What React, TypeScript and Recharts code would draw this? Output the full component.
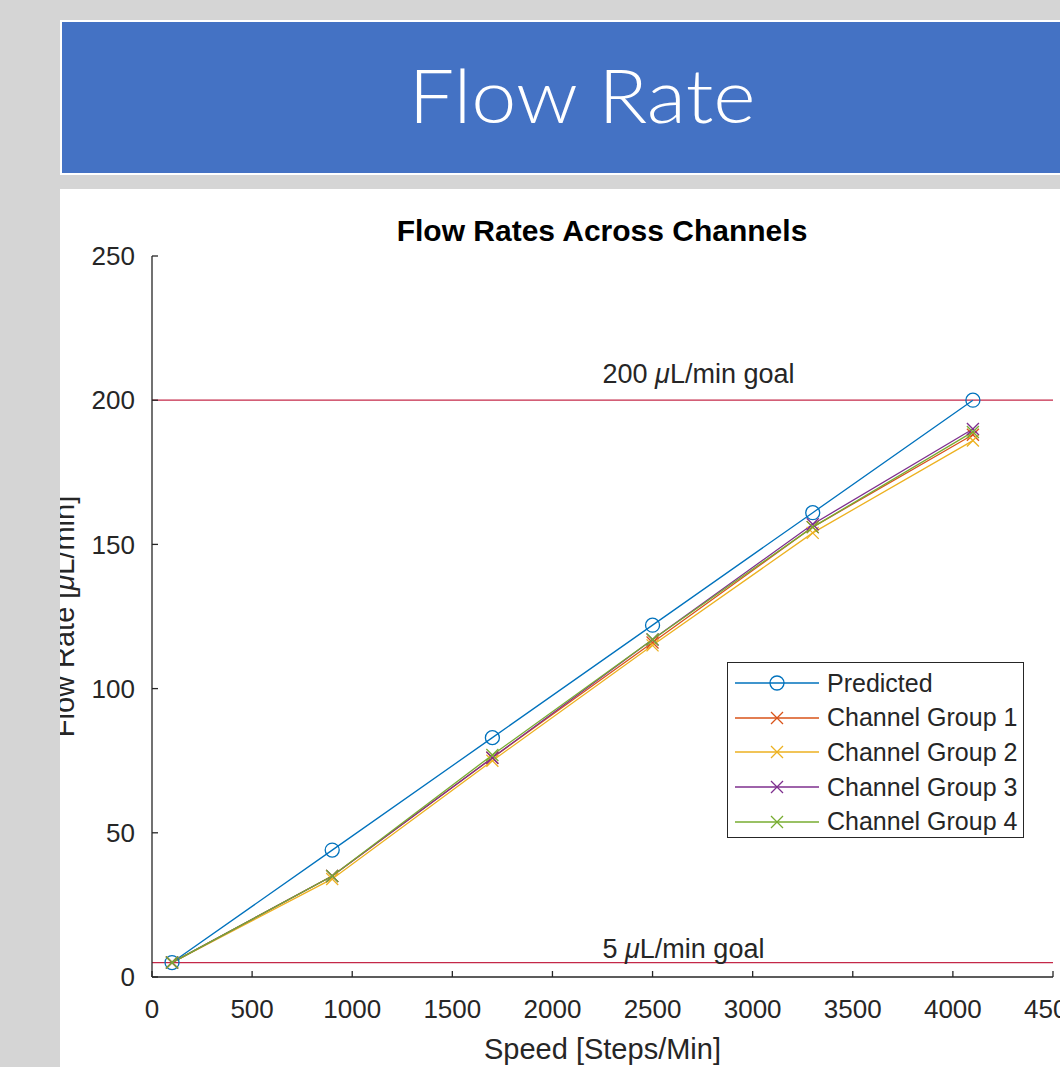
import React from "react";
import { LineChart, Line, XAxis, YAxis, ReferenceLine } from "recharts";

const speeds = [100, 900, 1700, 2500, 3300, 4100];
const predicted = [5, 44, 83, 122, 161, 200];
const group1 = [5, 35, 76, 116, 156, 188];
const group2 = [5, 34, 75, 115, 154, 186];
const group3 = [5, 35, 76, 117, 157, 190];
const group4 = [5, 35, 77, 117, 156, 189];

const xTicks = [0, 500, 1000, 1500, 2000, 2500, 3000, 3500, 4000, 4500];
const yTicks = [0, 50, 100, 150, 200, 250];
const goals = [
  { value: 200, text: "200", dy: -17 },
  { value: 5, text: "5", dy: -5 },
];

const series = [
  { key: "predicted", name: "Predicted", color: "#0072BD", marker: "o" },
  { key: "group1", name: "Channel Group 1", color: "#D95319", marker: "x" },
  { key: "group2", name: "Channel Group 2", color: "#EDB120", marker: "x" },
  { key: "group3", name: "Channel Group 3", color: "#7E2F8E", marker: "x" },
  { key: "group4", name: "Channel Group 4", color: "#77AC30", marker: "x" },
];

const data = speeds.map((s, i) => ({
  speed: s,
  predicted: predicted[i],
  group1: group1[i],
  group2: group2[i],
  group3: group3[i],
  group4: group4[i],
}));

const FONT = '"Liberation Sans", Arial, Helvetica, sans-serif';
const AXIS = "#262626";
const GOAL = "#c42848";

function Marker({ cx, cy, type, color }: any) {
  if (cx == null || cy == null) return null;
  if (type === "o") {
    return <circle cx={cx} cy={cy} r={7} fill="none" stroke={color} strokeWidth={1.3} />;
  }
  const s = 6;
  return (
    <g stroke={color} strokeWidth={1.3}>
      <line x1={cx - s} y1={cy - s} x2={cx + s} y2={cy + s} />
      <line x1={cx - s} y1={cy + s} x2={cx + s} y2={cy - s} />
    </g>
  );
}

// legend box drawn like matlab's, sits over the plot
function LegendBox() {
  return (
    <div
      style={{
        position: "absolute",
        left: 667,
        top: 473,
        border: `1.5px solid ${AXIS}`,
        background: "#fff",
        width: 297,
        height: 176,
        boxSizing: "border-box",
        padding: "3px 0 0 7px",
        fontFamily: FONT,
        fontSize: 25,
        color: AXIS,
      }}
    >
      {series.map((s) => (
        <div key={s.key} style={{ display: "flex", alignItems: "center", height: 34.6 }}>
          <svg width={84} height={20} style={{ marginRight: 8 }}>
            <line x1={0} y1={10} x2={84} y2={10} stroke={s.color} strokeWidth={1.3} />
            <Marker cx={42} cy={10} type={s.marker} color={s.color} />
          </svg>
          <span>{s.name}</span>
        </div>
      ))}
    </div>
  );
}

function GoalLabel({ viewBox, text, dy }: any) {
  const { x, y, width } = viewBox;
  return (
    <text x={x + width / 2} y={y + dy} fontFamily={FONT} fontSize={27} fill={AXIS} textAnchor="start">
      {text} <tspan fontStyle="italic">μ</tspan>L/min goal
    </text>
  );
}

function YLabel({ viewBox }: any) {
  const cy = viewBox.y + viewBox.height / 2;
  const x = 14;
  return (
    <text
      x={x}
      y={cy}
      transform={`rotate(-90, ${x}, ${cy})`}
      textAnchor="middle"
      fontFamily={FONT}
      fontSize={29}
      fill={AXIS}
    >
      Flow Rate [<tspan fontStyle="italic">μ</tspan>L/min]
    </text>
  );
}

export default function App() {
  return (
    <div
      style={{
        position: "absolute",
        left: 0,
        top: 0,
        width: 1060,
        height: 1067,
        background: "#d5d5d5",
        overflow: "hidden",
      }}
    >
      <div
        style={{
          position: "absolute",
          left: 60,
          top: 20,
          width: 1060,
          height: 155,
          background: "#4472c4",
          border: "2px solid #fff",
          boxSizing: "border-box",
        }}
      >
        <svg width={1060} height={155} style={{ position: "absolute", left: -2, top: -2 }}>
          <text
            x={522}
            y={103}
            textAnchor="middle"
            fill="#fff"
            fontFamily='Lato, "Open Sans", sans-serif'
            fontWeight={300}
            fontSize={74}
            textLength={347}
            lengthAdjust="spacingAndGlyphs"
          >
            Flow Rate
          </text>
        </svg>
      </div>

      <div
        style={{
          position: "absolute",
          left: 60,
          top: 189,
          width: 1000,
          height: 878,
          background: "#fff",
          overflow: "hidden",
        }}
      >
        <div
          style={{
            position: "absolute",
            top: 25,
            left: 0,
            width: 1084,
            textAlign: "center",
            fontFamily: FONT,
            fontWeight: "bold",
            fontSize: 30,
            color: "#000",
            lineHeight: "34px",
          }}
        >
          Flow Rates Across Channels
        </div>
        <LineChart
          width={1050}
          height={878}
          data={data}
          margin={{ top: 67, right: 57, bottom: 0, left: 0 }}
          style={{ fontFamily: FONT }}
        >
          <XAxis
            dataKey="speed"
            type="number"
            domain={[0, 4500]}
            ticks={xTicks}
            height={90}
            stroke={AXIS}
            strokeWidth={1.3}
            tickSize={-6}
            tickMargin={29}
            tick={{ fill: AXIS, fontSize: 26 }}
            label={{ value: "Speed [Steps/Min]", position: "insideBottom", offset: 8, fill: AXIS, fontSize: 29 }}
          />
          <YAxis
            type="number"
            domain={[0, 250]}
            ticks={yTicks}
            width={92}
            stroke={AXIS}
            strokeWidth={1.3}
            tickSize={-6}
            tickMargin={23}
            tick={{ fill: AXIS, fontSize: 26 }}
            label={<YLabel />}
          />
          {goals.map((g) => (
            <ReferenceLine
              key={g.value}
              y={g.value}
              stroke={GOAL}
              strokeWidth={1.3}
              label={<GoalLabel text={g.text} dy={g.dy} />}
            />
          ))}
          {series.map((s) => (
            <Line
              key={s.key}
              dataKey={s.key}
              name={s.name}
              stroke={s.color}
              strokeWidth={1.3}
              isAnimationActive={false}
              dot={(p: any) => <Marker key={`${s.key}-${p.index}`} cx={p.cx} cy={p.cy} type={s.marker} color={s.color} />}
              activeDot={false}
            />
          ))}
        </LineChart>
        <LegendBox />
      </div>
    </div>
  );
}
